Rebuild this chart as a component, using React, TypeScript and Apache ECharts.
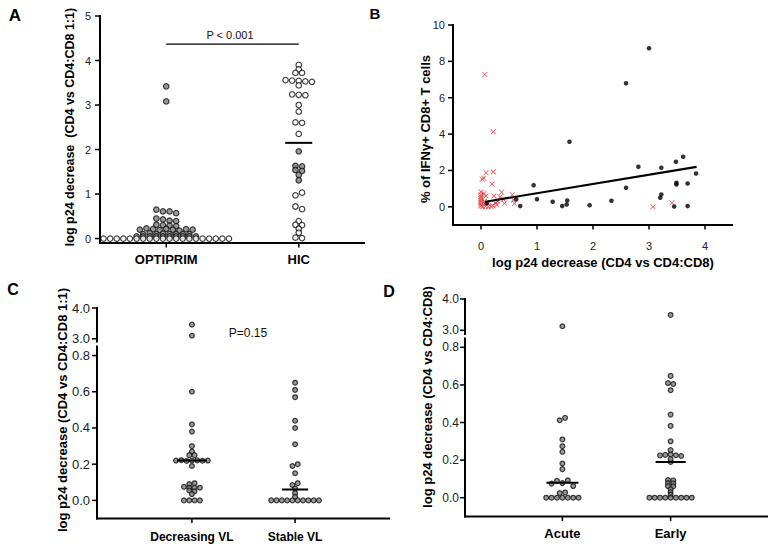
import React, { useEffect, useRef } from "react";
import * as echarts from "echarts";

const FONT = "'Liberation Sans', Arial, Helvetica, sans-serif";

// ---------- Panel A ----------
const A_categories = ["OPTIPRIM", "HIC"];
const A_optiprim = [
  3.42, 3.08, 0.65, 0.61, 0.61, 0.57, 0.45, 0.43, 0.4, 0.39, 0.31, 0.3, 0.29, 0.28,
  0.2, 0.23, 0.21, 0.19, 0.22, 0.2, 0.18, 0.21, 0.2,
  0.1, 0.12, 0.1, 0.11, 0.1, 0.1, 0.1, 0.1,
  0.05, 0.05, 0.05, 0.05, 0.05, 0.05, 0.05, 0.05, 0.05, 0.05,
  0, 0, 0, 0, 0, 0, 0, 0, 0, 0, 0, 0, 0, 0, 0, 0, 0, 0, 0, 0,
];
const A_hic = [
  3.9, 3.8, 3.72, 3.72, 3.56, 3.55, 3.54, 3.53, 3.52, 3.44, 3.24, 3.23, 3.22, 3.0, 2.85,
  2.61, 2.6, 2.35, 1.96, 1.63, 1.62, 1.54, 1.52, 1.43, 1.31, 0.97, 1.03, 0.72, 0.66,
  0.39, 0.31, 0.3, 0.22, 0.13, 0.02, 0.01,
];
const A_hicMean = 2.15;
const A_pBracketY = 4.37;
const A_pText = "P < 0.001";
const A_yTicks = [0, 1, 2, 3, 4, 5];

// ---------- Panel B ----------
const B_optiprim: number[][] = [
  [0.07, 7.28], [0.22, 4.13], [0.09, 1.87], [0.22, 1.92], [0.02, 1.52], [0.05, 1.57], [0.2, 1.25],
  [0.0, 0.82], [0.0, 0.66], [0.0, 0.55], [0.0, 0.45], [0.0, 0.35], [0.0, 0.25], [0.0, 0.15], [0.0, 0.05],
  [0.03, 0.0], [0.08, 0.02], [0.13, 0.0], [0.18, 0.02], [0.21, 0.06],
  [0.05, 0.72], [0.09, 0.6], [0.06, 0.3], [0.12, 0.18], [0.23, 0.6], [0.26, 0.22], [0.3, 0.3], [0.28, 0.12],
  [0.34, 0.55], [0.37, 0.8], [0.4, 0.42], [0.42, 0.2], [0.56, 0.66], [0.58, 0.38], [0.6, 0.18],
  [3.07, 0.0], [3.41, 0.22],
];
const B_hic: number[][] = [
  [3.0, 8.72], [2.59, 6.79], [1.58, 3.58], [2.81, 2.2], [3.22, 2.15], [3.61, 2.75], [3.48, 2.48],
  [3.49, 1.32], [3.49, 1.23], [3.69, 1.28], [3.84, 1.83], [2.59, 1.05], [3.22, 0.68], [3.2, 0.5],
  [3.45, 0.02], [3.69, 0.04], [2.33, 0.33], [1.94, 0.09], [1.54, 0.35], [1.53, 0.13], [1.45, 0.04],
  [1.28, 0.28], [1.0, 0.42], [0.94, 1.19], [0.7, 0.04], [0.63, 0.42], [0.1, 0.2],
];
const B_fitX = [0.08, 3.85];
const B_fitY = [0.28, 2.2];
const B_xTicks = [0, 1, 2, 3, 4];
const B_yTicks = [0, 2, 4, 6, 8, 10];

// ---------- Panel C ----------
const C_categories = ["Decreasing VL", "Stable VL"];
const C_decreasing = [
  3.46, 3.1, 0.6, 0.42, 0.38, 0.3, 0.27, 0.25, 0.25,
  0.22, 0.222, 0.218, 0.22, 0.221, 0.219, 0.22, 0.19,
  0.09, 0.095, 0.075, 0.07, 0.07, 0.07, 0.055, 0.05, 0.035, 0, 0, 0, 0,
];
const C_stable = [
  0.65, 0.61, 0.57, 0.44, 0.4, 0.31, 0.19, 0.2, 0.15, 0.085, 0.095, 0.065, 0.04, 0.02,
  0, 0, 0, 0, 0, 0, 0, 0, 0, 0,
];
const C_means = [0.22, 0.06];
const C_lowTicks = [0, 0.2, 0.4, 0.6, 0.8];
const C_highTicks = [3, 4];
const C_pText = "P=0.15";

// ---------- Panel D ----------
const D_categories = ["Acute", "Early"];
const D_acute = [
  3.13, 0.412, 0.425, 0.31, 0.274, 0.244, 0.182, 0.152,
  0.075, 0.09, 0.078, 0.093, 0.062, 0.025, 0.028, 0, 0, 0, 0, 0, 0, 0,
];
const D_early = [
  3.49, 0.648, 0.61, 0.605, 0.572, 0.442, 0.382, 0.3, 0.253,
  0.19, 0.225, 0.228, 0.23, 0.226, 0.222, 0.205,
  0.094, 0.092, 0.078, 0.076, 0.062, 0.06, 0.045, 0.03, 0.016,
  0, 0, 0, 0, 0, 0, 0, 0, 0,
];
const D_means = [0.08, 0.19];
const D_lowTicks = [0, 0.2, 0.4, 0.6, 0.8];
const D_highTicks = [3, 4];

// ---------- layout (geometry only) ----------
type Geo = { left: number; top: number; width: number; height: number; xMin: number; xMax: number; yMin: number; yMax: number };
const GA: Geo = { left: 100, top: 16, width: 265, height: 227, xMin: 0, xMax: 2, yMin: -0.1, yMax: 5 };
const GB: Geo = { left: 453, top: 25, width: 280, height: 200, xMin: -0.5, xMax: 4.5, yMin: -1, yMax: 10 };
const GCt: Geo = { left: 97, top: 308, width: 293, height: 34.5, xMin: -0.92, xMax: 1.92, yMin: 2.88, yMax: 4 };
const GCl: Geo = { left: 97, top: 346.5, width: 293, height: 172, xMin: -0.92, xMax: 1.92, yMin: -0.1, yMax: 0.85 };
const GDt: Geo = { left: 465, top: 299, width: 303, height: 36, xMin: -0.9, xMax: 1.9, yMin: 2.85, yMax: 4 };
const GDl: Geo = { left: 465, top: 338.5, width: 303, height: 178, xMin: -0.9, xMax: 1.9, yMin: -0.1, yMax: 0.847 };
const GEOS = [GA, GB, GCt, GCl, GDt, GDl];

const pxPerY = (g: Geo) => g.height / (g.yMax - g.yMin);
const xPerPx = (g: Geo) => (g.xMax - g.xMin) / g.width;
const xPx = (g: Geo, v: number) => g.left + ((v - g.xMin) / (g.xMax - g.xMin)) * g.width;
const yPx = (g: Geo, v: number) => g.top + ((g.yMax - v) / (g.yMax - g.yMin)) * g.height;

// dot-density layout: values closer than h pixels share a row, laid out centred
function swarmOffsets(values: number[], pxPerUnit: number, spacing: number, h: number): number[] {
  const idx = values.map((_, i) => i).sort((a, b) => values[a] - values[b] || a - b);
  const offs = new Array(values.length).fill(0);
  let group: number[] = [];
  const flush = () => {
    const g = [...group].sort((a, b) => a - b);
    const n = g.length;
    g.forEach((i, j) => { offs[i] = (j - (n - 1) / 2) * spacing; });
    group = [];
  };
  let prev = -Infinity;
  for (const i of idx) {
    const y = values[i] * pxPerUnit;
    if (group.length && y - prev >= h) flush();
    group.push(i);
    prev = y;
  }
  if (group.length) flush();
  return offs;
}

function dots(values: number[], cx: number, g: Geo, spacing: number, h: number, fill: (v: number) => string) {
  const offs = swarmOffsets(values, pxPerY(g), spacing, h);
  const k = xPerPx(g);
  return values.map((v, i) => ({ value: [cx + offs[i] * k, v], itemStyle: { color: fill(v) } }));
}

function yAxisDef(gridIndex: number, g: Geo, ticks: number[], fontSize: number, margin: number, fmt: (v: number) => string) {
  return {
    gridIndex, type: "value", min: g.yMin, max: g.yMax,
    axisLine: { show: false }, axisTick: { show: false },
    axisLabel: { customValues: ticks, formatter: fmt, fontFamily: FONT, fontSize, color: "#222", margin },
    splitLine: { show: false },
  };
}
function xAxisDef(gridIndex: number, g: Geo, positions: number[], fmt: (v: number) => string, fontSize: number, margin: number, bold: boolean) {
  return {
    gridIndex, type: "value", min: g.xMin, max: g.xMax,
    axisLine: { show: false }, axisTick: { show: false },
    axisLabel: {
      customValues: positions, formatter: fmt,
      fontFamily: FONT, fontSize, fontWeight: bold ? "bold" : "normal", color: bold ? "#000" : "#222", margin,
    },
    splitLine: { show: false },
  };
}
function hiddenX(gridIndex: number, g: Geo) {
  return { gridIndex, type: "value", min: g.xMin, max: g.xMax, show: false, splitLine: { show: false } };
}

// axis lines and ticks as thin filled rectangles placed from each grid's geometry
function axisGraphics(g: Geo, yTicks: number[], xTicks: number[] | null) {
  const out: any[] = [];
  const bottom = g.top + g.height;
  const bar = (x: number, y: number, w: number, h: number) => ({
    type: "rect", silent: true, z: 50,
    shape: { x, y, width: w, height: h }, style: { fill: "#000" },
  });
  out.push(bar(g.left - 1, g.top - 1, 2, g.height + (xTicks ? 2 : 1)));
  yTicks.forEach((t) => { const y = yPx(g, t); out.push(bar(g.left - 5, y - 0.75, 4.5, 1.5)); });
  if (xTicks) {
    out.push(bar(g.left - 1, bottom - 1, g.width + 1, 2));
    xTicks.forEach((t) => { const x = xPx(g, t); out.push(bar(x - 0.75, bottom, 1.5, 4.5)); });
  }
  return out;
}

const GREY = "#808080";
const dotStyle = (size: number) => ({
  symbol: "circle", symbolSize: size,
  itemStyle: { borderColor: "#111", borderWidth: 1.2 },
});

function meanLine(xi: number, cx: number, m: number, g: Geo, hw: number) {
  const k = xPerPx(g);
  return {
    type: "line", xAxisIndex: xi, yAxisIndex: xi, symbol: "none", z: 5,
    data: [[cx - hw * k, m], [cx + hw * k, m]],
    lineStyle: { color: "#000", width: 2 },
  };
}

function splitSeries(values: number[], cx: number, gLow: Geo, spacing: number, h: number, xiTop: number, xiLow: number, size: number) {
  const all = dots(values, cx, gLow, spacing, h, () => GREY);
  const top = all.filter((d) => d.value[1] > 1);
  const low = all.filter((d) => d.value[1] <= 1);
  return [
    { type: "scatter", xAxisIndex: xiTop, yAxisIndex: xiTop, data: top, ...dotStyle(size) },
    { type: "scatter", xAxisIndex: xiLow, yAxisIndex: xiLow, data: low, ...dotStyle(size) },
  ];
}

const XMARK = "path://M1,0L5,4L9,0L10,1L6,5L10,9L9,10L5,6L1,10L0,9L4,5L0,1Z";

function buildOption(): any {
  const fmtInt = (v: number) => String(Math.round(v));
  const fmt1 = (v: number) => v.toFixed(1);
  const catFmt = (cats: string[], pos: number[]) => (v: number) => cats[pos.findIndex((p) => Math.abs(p - v) < 1e-6)] ?? "";
  const titleText = (text: string, x: number, y: number, size: number, rotate: boolean) => ({
    type: "text", x, y, rotation: rotate ? Math.PI / 2 : 0, silent: true,
    style: { text, fontFamily: FONT, fontSize: size, fontWeight: "bold", fill: "#000", align: "center", verticalAlign: "middle" },
  });
  const plainText = (text: string, x: number, y: number, size: number) => ({
    type: "text", x, y, silent: true,
    style: { text, fontFamily: FONT, fontSize: size, fill: "#111", align: "center", verticalAlign: "middle" },
  });
  const aPos = [0.5, 1.5];
  const cdPos = [0, 1];

  return {
    animation: false,
    grid: GEOS.map((g) => ({ left: g.left, top: g.top, width: g.width, height: g.height })),
    xAxis: [
      xAxisDef(0, GA, aPos, catFmt(A_categories, aPos), 13, 10, true),
      xAxisDef(1, GB, B_xTicks, fmtInt, 11, 15, false),
      hiddenX(2, GCt),
      xAxisDef(3, GCl, cdPos, catFmt(C_categories, cdPos), 12, 12, true),
      hiddenX(4, GDt),
      xAxisDef(5, GDl, cdPos, catFmt(D_categories, cdPos), 13, 10, true),
    ],
    yAxis: [
      yAxisDef(0, GA, A_yTicks, 11, 9, fmtInt),
      yAxisDef(1, GB, B_yTicks, 11, 8, fmtInt),
      yAxisDef(2, GCt, C_highTicks, 13, 7, fmt1),
      yAxisDef(3, GCl, C_lowTicks, 13, 7, fmt1),
      yAxisDef(4, GDt, D_highTicks, 12, 6, fmt1),
      yAxisDef(5, GDl, D_lowTicks, 12, 6, fmt1),
    ],
    series: [
      // Panel A
      { type: "scatter", xAxisIndex: 0, yAxisIndex: 0, data: dots(A_optiprim, 0.5, GA, 6.6, 2, (v) => (v === 0 ? "#fff" : GREY)), ...dotStyle(5.5) },
      { type: "scatter", xAxisIndex: 0, yAxisIndex: 0, data: dots(A_hic, 1.5, GA, 6.6, 3.5, (v) => (v > 1.2 && v < 2.1 ? GREY : "#fff")), ...dotStyle(5.5) },
      meanLine(0, 1.5, A_hicMean, GA, 13.5),
      {
        type: "line", xAxisIndex: 0, yAxisIndex: 0, symbol: "none",
        data: [[0.5, A_pBracketY], [1.5, A_pBracketY]], lineStyle: { color: "#000", width: 1.3 },
      },
      // Panel B
      {
        type: "scatter", xAxisIndex: 1, yAxisIndex: 1, symbol: XMARK, symbolSize: 5.5,
        data: B_optiprim, itemStyle: { color: "#e3262b" },
      },
      {
        type: "scatter", xAxisIndex: 1, yAxisIndex: 1, symbol: "circle", symbolSize: 4.6,
        data: B_hic, itemStyle: { color: "#000" },
      },
      {
        type: "line", xAxisIndex: 1, yAxisIndex: 1, symbol: "none", z: 5,
        data: B_fitX.map((x, i) => [x, B_fitY[i]]), lineStyle: { color: "#000", width: 2.2 },
      },
      // Panel C
      ...splitSeries(C_decreasing, 0, GCl, 5.3, 2.5, 2, 3, 4.8),
      ...splitSeries(C_stable, 1, GCl, 5.3, 2.5, 2, 3, 4.8),
      meanLine(3, 0, C_means[0], GCl, 15),
      meanLine(3, 1, C_means[1], GCl, 13),
      // Panel D
      ...splitSeries(D_acute, 0, GDl, 5.4, 2.5, 4, 5, 4.8),
      ...splitSeries(D_early, 1, GDl, 5.3, 2.5, 4, 5, 4.8),
      meanLine(5, 0, D_means[0], GDl, 16),
      meanLine(5, 1, D_means[1], GDl, 15),
    ],
    graphic: [
      ...axisGraphics(GA, A_yTicks, aPos),
      ...axisGraphics(GB, B_yTicks, B_xTicks),
      ...axisGraphics(GCt, C_highTicks, null),
      ...axisGraphics(GCl, C_lowTicks, cdPos),
      ...axisGraphics(GDt, D_highTicks, null),
      ...axisGraphics(GDl, D_lowTicks, cdPos),
      titleText("A", 15, 15, 17, false),
      titleText("B", 375, 13, 15, false),
      titleText("C", 13, 289, 16, false),
      titleText("D", 389, 291, 16, false),
      titleText("log p24 decrease  (CD4 vs CD4:CD8 1:1)", 70, 127, 12.5, true),
      titleText("% of IFN\u03b3+ CD8+ T cells", 425, 129, 13, true),
      titleText("log p24 decrease (CD4 vs CD4:CD8)", 603, 262, 13, false),
      titleText("log p24 decrease (CD4 vs CD4:CD8 1:1)", 62, 410, 13, true),
      titleText("log p24 decrease (CD4 vs CD4:CD8)", 427, 397, 13, true),
      plainText(A_pText, 230, 35, 11),
      plainText(C_pText, 248, 333, 12),
    ],
  };
}

export default function App() {
  const ref = useRef<HTMLDivElement>(null);
  useEffect(() => {
    document.body.style.margin = "0";
    if (!ref.current) return;
    const chart = echarts.init(ref.current, undefined, { renderer: "svg" });
    chart.setOption(buildOption());
    return () => chart.dispose();
  }, []);
  return <div ref={ref} style={{ width: 773, height: 546, background: "#fff" }} />;
}
